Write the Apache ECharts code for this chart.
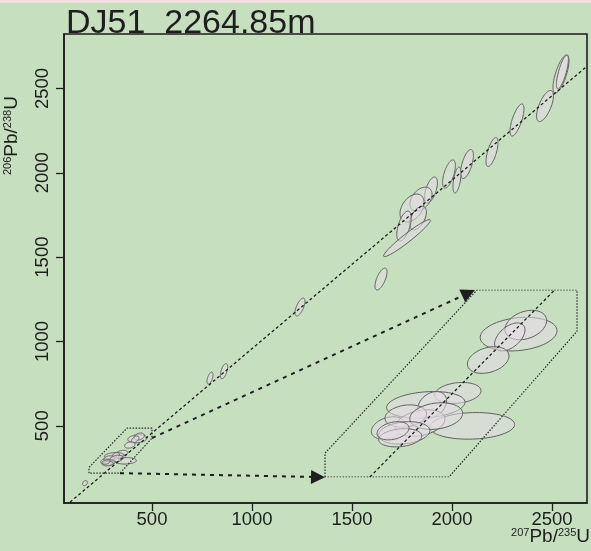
<!DOCTYPE html>
<html><head><meta charset="utf-8">
<script src="https://cdn.jsdelivr.net/npm/echarts@6/dist/echarts.min.js"></script>
<style>html,body{margin:0;padding:0;background:#c6dfbf;}#c{width:591px;height:551px;}</style>
</head><body><div id="c"></div>
<script>
// tick labels
const xTicks = [500, 1000, 1500, 2000, 2500];
const yTicks = [500, 1000, 1500, 2000, 2500];
// older zircon ellipses: [207Pb/235U age, 206Pb/238U age, sx, sy, rho]
const grainsOld = [
  [2545, 2586, 40, 113, 0.7],
  [2552, 2598, 30, 100, 0.75],
  [2465, 2396, 42, 92, 0.65],
  [2325, 2313, 35, 95, 0.7],
  [2200, 2123, 30, 86, 0.65],
  [2075, 2052, 32, 86, 0.6],
  [1985, 1993, 32, 83, 0.6],
  [2025, 1957, 20, 77, 0.5],
  [1895, 1898, 32, 77, 0.55],
  [1845, 1844, 55, 71, 0.4],
  [1800, 1791, 60, 83, 0.4],
  [1830, 1732, 42, 70, 0.5],
  [1760, 1684, 36, 89, 0.55],
  [1775, 1613, 117, 110, 0.96],
  [1645, 1370, 30, 65, 0.65],
  [1240, 1204, 25, 53, 0.65],
  [860, 824, 18, 45, 0.55],
  [790, 783, 15, 35, 0.55],
  [165, 160, 12, 15, 0.3]
];
// young zircon ellipses (also shown magnified in the inset)
const grainsYoung = [
  [427, 423, 48, 24, 0.2],
  [436, 436, 26, 21, 0.3],
  [416, 419, 19, 20, 0.5],
  [389, 386, 26, 19, 0.3],
  [351, 339, 29, 15, 0.2],
  [311, 322, 49, 19, 0.2],
  [319, 322, 18, 19, 0.3],
  [369, 292, 53, 19, 0.1],
  [264, 289, 21, 16, 0.3],
  [304, 296, 31, 19, 0.3],
  [286, 306, 26, 16, 0.2],
  [324, 306, 33, 19, 0.2],
  [284, 282, 32, 16, 0.2],
  [279, 275, 27, 13, 0.2],
  [270, 285, 20, 13, 0.3]
];
const concordia = [[90, 47], [2670, 2627]];
const insetConcordia = [[241, 219], [472, 486]];
const zoomBox = [[185, 219], [185, 253], [375, 486], [500, 486], [500, 427], [340, 219], [185, 219]];
const arrowFrom = [[500, 427], [340, 219]];
const arrowTo = [[2083, 1287], [1330, 196]];

function ellipseItem(params, api) {
  const cx = api.value(0), cy = api.value(1), sx = api.value(2), sy = api.value(3), r = api.value(4);
  const k = Math.sqrt(1 - r * r);
  const pts = [];
  for (let i = 0; i < 72; i++) {
    const t = i / 72 * Math.PI * 2;
    pts.push(api.coord([cx + sx * Math.cos(t), cy + sy * (r * Math.cos(t) + k * Math.sin(t))]));
  }
  return {type: 'polygon', shape: {points: pts},
    style: {fill: 'rgba(228,220,228,0.55)', stroke: '#5f5f5f', lineWidth: 1}};
}

const FONT = 'Liberation Sans, Arial, sans-serif';
const chart = echarts.init(document.getElementById('c'), null, {renderer: 'canvas'});
chart.setOption({
  backgroundColor: '#c6dfbf',
  animation: false,
  grid: [
    {left: 64, top: 34, width: 523, height: 469, show: true, borderColor: '#1e1e1e', borderWidth: 1.6, backgroundColor: 'transparent'},
    {left: 325, top: 290, width: 252, height: 187, show: false}
  ],
  xAxis: [
    {type: 'value', gridIndex: 0, min: 60, max: 2675,
      axisLine: {show: true, lineStyle: {color: '#1e1e1e', width: 1.6}},
      axisTick: {show: true, length: 8, lineStyle: {color: '#1e1e1e', width: 1.3}, customValues: xTicks},
      axisLabel: {color: '#1e1e1e', fontSize: 18.5, fontFamily: FONT, margin: 7, customValues: xTicks, formatter: v => String(v)},
      splitLine: {show: false}},
    {type: 'value', gridIndex: 1, min: 185, max: 500, show: false}
  ],
  yAxis: [
    {type: 'value', gridIndex: 0, min: 42, max: 2823,
      axisLine: {show: true, lineStyle: {color: '#1e1e1e', width: 1.6}},
      axisTick: {show: true, length: 8, lineStyle: {color: '#1e1e1e', width: 1.3}, customValues: yTicks},
      axisLabel: {color: '#1e1e1e', fontSize: 18.5, fontFamily: FONT, margin: 12, rotate: 90, customValues: yTicks, formatter: v => String(v)},
      splitLine: {show: false}},
    {type: 'value', gridIndex: 1, min: 219, max: 486, show: false}
  ],
  series: [
    {type: 'line', xAxisIndex: 0, yAxisIndex: 0, data: concordia, symbol: 'none', silent: true,
      lineStyle: {color: '#1e1e1e', width: 1.3, type: [3, 2.5]}},
    {type: 'line', xAxisIndex: 0, yAxisIndex: 0, data: zoomBox, symbol: 'none', silent: true,
      lineStyle: {color: '#2a2a2a', width: 1.2, type: [1.5, 1.5]}},
    {type: 'lines', coordinateSystem: 'cartesian2d', xAxisIndex: 0, yAxisIndex: 0, silent: true,
      symbol: ['none', 'triangle'], symbolSize: 14,
      lineStyle: {color: '#1e1e1e', width: 2, type: [4, 5], opacity: 1},
      itemStyle: {color: '#111'},
      data: arrowFrom.map((p, i) => ({coords: [p, arrowTo[i]]}))},
    {type: 'custom', xAxisIndex: 0, yAxisIndex: 0, renderItem: ellipseItem, data: grainsOld, silent: true},
    {type: 'custom', xAxisIndex: 0, yAxisIndex: 0, renderItem: ellipseItem, data: grainsYoung, silent: true},
    {type: 'line', xAxisIndex: 1, yAxisIndex: 1, data: zoomBox, symbol: 'none', silent: true,
      lineStyle: {color: '#2a2a2a', width: 1.2, type: [1.5, 1.5]}},
    {type: 'line', xAxisIndex: 1, yAxisIndex: 1, data: insetConcordia, symbol: 'none', silent: true,
      lineStyle: {color: '#1e1e1e', width: 1.3, type: [3, 2.5]}},
    {type: 'custom', xAxisIndex: 1, yAxisIndex: 1, renderItem: ellipseItem, data: grainsYoung, silent: true}
  ],
  graphic: [
    {type: 'rect', left: 0, top: 0, shape: {width: 591, height: 3}, style: {fill: '#f2dfe0'}},
    {type: 'text', left: 66, top: 7, style: {text: 'DJ51  2264.85m', font: '34px ' + FONT, fill: '#1e1e1e'}},
    {type: 'text', right: 1, top: 527, style: {
      text: '{s|207}{m|Pb/}{s|235}{m|U}', fill: '#1e1e1e',
      rich: {s: {fontSize: 11, fontFamily: FONT, verticalAlign: 'top', padding: [0, 0, 8, 0]}, m: {fontSize: 19, fontFamily: FONT}}}},
    {type: 'text', x: 2, y: 175, rotation: Math.PI / 2, style: {
      text: '{s|206}{m|Pb/}{s|238}{m|U}', fill: '#1e1e1e',
      rich: {s: {fontSize: 11, fontFamily: FONT, padding: [0, 0, 8, 0]}, m: {fontSize: 19, fontFamily: FONT}}}}
  ]
});
</script></body></html>
